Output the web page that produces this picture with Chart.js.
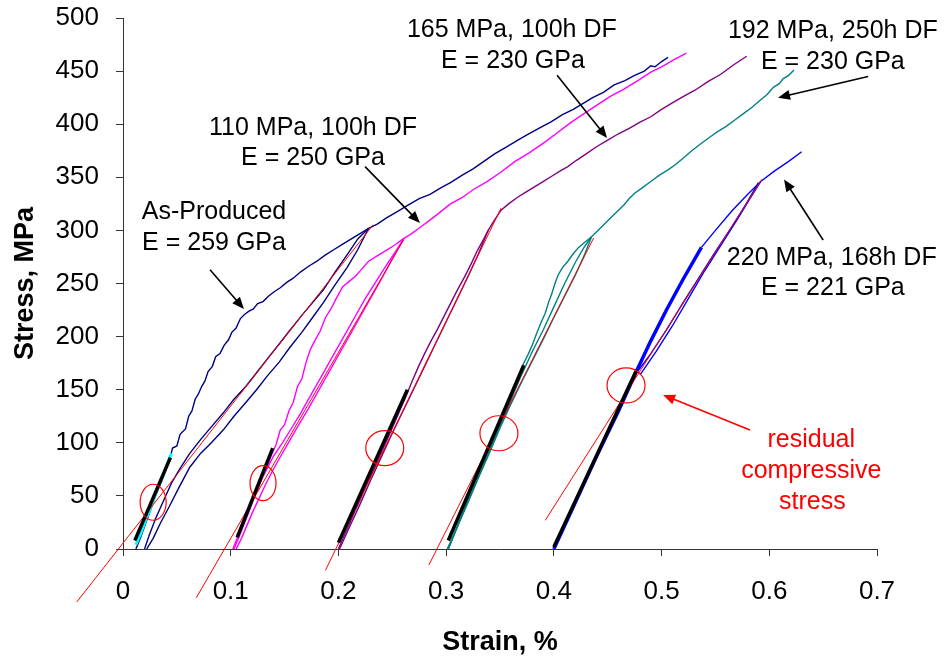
<!DOCTYPE html>
<html>
<head>
<meta charset="utf-8">
<script src="https://cdn.jsdelivr.net/npm/chart.js@4.4.1/dist/chart.umd.min.js"></script>
<style>
  html, body { margin: 0; padding: 0; background: #fff; }
  #wrap { width: 948px; height: 660px; }
</style>
</head>
<body>
<div id="wrap"><canvas id="stressStrain" width="948" height="660"></canvas></div>
<script>
// ==========================================
// DATA (strain %, stress MPa)
// ==========================================
const xTickLabels = ['0', '0.1', '0.2', '0.3', '0.4', '0.5', '0.6', '0.7'];
const yTickLabels = ['0', '50', '100', '150', '200', '250', '300', '350', '400', '450', '500'];

// As-Produced
const apLoad = [[0.012,0],[0.016,10],[0.021,24],[0.026,38],[0.031,52],[0.036,64],[0.040,76],[0.044,87],[0.046,95],[0.050,97],[0.053,108],[0.058,113],[0.061,125],[0.064,130],[0.067,141],[0.070,146],[0.073,153],[0.076,158],[0.079,167],[0.083,172],[0.086,181],[0.090,184],[0.094,192],[0.098,197],[0.101,204],[0.105,208],[0.109,217],[0.113,221],[0.117,224],[0.121,226],[0.125,231],[0.130,233],[0.135,238],[0.140,242],[0.146,246],[0.152,251],[0.158,255],[0.165,261],[0.172,266],[0.180,271],[0.188,277],[0.196,282],[0.204,287],[0.212,292],[0.220,297],[0.228,302],[0.236,306],[0.245,312],[0.255,318],[0.265,324],[0.275,330],[0.285,334],[0.295,340],[0.304,345],[0.315,352],[0.325,358],[0.335,365],[0.345,372],[0.355,378],[0.365,384],[0.375,390],[0.386,396],[0.397,402],[0.408,409],[0.418,414],[0.428,420],[0.436,425],[0.446,430],[0.456,437],[0.466,441],[0.475,446],[0.484,450],[0.490,455],[0.494,454],[0.500,459],[0.506,463]];
const apUnload = [[0.228,302],[0.218,292],[0.208,277],[0.197,261],[0.186,244],[0.176,232],[0.166,220],[0.155,206],[0.145,193],[0.134,179],[0.124,166],[0.114,153],[0.103,141],[0.093,128],[0.082,115],[0.072,103],[0.062,90],[0.053,76],[0.045,62],[0.037,44],[0.030,28],[0.024,12],[0.020,0]];
const apReload = [[0.022,0],[0.028,10],[0.035,25],[0.043,40],[0.052,58],[0.062,77],[0.072,90],[0.082,100],[0.093,112],[0.103,125],[0.114,138],[0.124,150],[0.134,163],[0.145,176],[0.155,190],[0.166,204],[0.176,218],[0.186,232],[0.197,249],[0.208,265],[0.218,282],[0.228,302]];
const apRaw = [[0.012,4],[0.017,16],[0.022,30],[0.027,42],[0.032,57],[0.037,68],[0.041,80],[0.045,90]];
const apSlope = [[0.011,8],[0.044,86]];
const apSecant = [[-0.043,-50],[0.232,305]];

// 110 MPa, 100h DF
const pkLoad = [[0.102,0],[0.106,10],[0.110,20],[0.114,31],[0.118,40],[0.122,50],[0.126,58],[0.130,70],[0.134,78],[0.138,89],[0.142,98],[0.146,112],[0.150,117],[0.154,130],[0.158,138],[0.162,153],[0.166,160],[0.170,176],[0.174,188],[0.178,196],[0.183,205],[0.188,218],[0.193,226],[0.198,236],[0.204,247],[0.210,252],[0.216,257],[0.222,264],[0.228,271],[0.236,276],[0.244,281],[0.252,286],[0.260,292],[0.268,297],[0.276,303],[0.284,309],[0.293,316],[0.304,325],[0.315,331],[0.326,339],[0.338,346],[0.351,355],[0.364,365],[0.377,373],[0.390,382],[0.402,391],[0.415,401],[0.428,410],[0.440,418],[0.452,426],[0.465,433],[0.478,441],[0.490,449],[0.500,454],[0.512,461],[0.523,467]];
const pkUnload = [[0.260,291],[0.253,280],[0.245,268],[0.235,252],[0.225,236],[0.215,218],[0.205,200],[0.195,182],[0.185,164],[0.175,146],[0.165,128],[0.156,113],[0.148,100],[0.140,88],[0.134,76],[0.128,64],[0.123,52],[0.118,38],[0.113,25],[0.108,12],[0.103,0]];
const pkReload = [[0.105,0],[0.110,10],[0.115,22],[0.120,34],[0.126,47],[0.132,60],[0.138,72],[0.145,85],[0.153,99],[0.162,115],[0.172,132],[0.182,150],[0.192,168],[0.202,186],[0.212,204],[0.222,222],[0.232,240],[0.242,258],[0.251,275],[0.260,291]];
const pkSlope = [[0.106,11],[0.139,95]];
const pkSecant = [[0.068,-46],[0.261,292]];

// 165 MPa, 100h DF
const puLoad = [[0.200,0],[0.205,12],[0.210,23],[0.215,35],[0.220,46],[0.226,60],[0.232,73],[0.238,87],[0.244,100],[0.250,114],[0.256,128],[0.262,142],[0.268,157],[0.274,171],[0.280,184],[0.286,196],[0.292,207],[0.298,219],[0.304,231],[0.310,243],[0.317,256],[0.323,268],[0.329,281],[0.335,292],[0.339,300],[0.345,310],[0.351,319],[0.358,325],[0.366,331],[0.374,336],[0.382,341],[0.390,346],[0.398,351],[0.406,356],[0.413,360],[0.421,366],[0.430,372],[0.440,379],[0.450,385],[0.460,391],[0.470,396],[0.480,402],[0.490,407],[0.500,414],[0.510,420],[0.520,426],[0.531,432],[0.543,440],[0.555,447],[0.567,456],[0.579,464]];
const puReload = [[0.201,0],[0.210,20],[0.220,42],[0.230,65],[0.240,87],[0.250,109],[0.260,130],[0.270,151],[0.280,172],[0.290,193],[0.300,214],[0.310,235],[0.320,256],[0.330,278],[0.339,300]];
const puSlope = [[0.200,6],[0.264,150]];
const puSecant = [[0.188,-20],[0.351,321]];

// 192 MPa, 250h DF
const tlLoad = [[0.302,0],[0.306,10],[0.310,20],[0.315,33],[0.320,46],[0.325,58],[0.330,70],[0.335,83],[0.339,93],[0.344,102],[0.348,112],[0.353,122],[0.357,131],[0.361,143],[0.364,152],[0.368,163],[0.372,175],[0.376,183],[0.380,192],[0.384,203],[0.388,213],[0.392,222],[0.395,232],[0.398,240],[0.401,250],[0.404,258],[0.408,265],[0.413,271],[0.418,278],[0.423,284],[0.429,289],[0.435,294],[0.440,299],[0.444,303],[0.450,309],[0.455,314],[0.460,319],[0.465,324],[0.470,330],[0.475,335],[0.482,340],[0.490,346],[0.498,352],[0.506,357],[0.513,362],[0.520,368],[0.528,375],[0.537,382],[0.545,388],[0.552,393],[0.560,398],[0.568,404],[0.576,410],[0.584,416],[0.591,422],[0.598,428],[0.604,435],[0.609,438],[0.613,443],[0.618,446],[0.623,451]];
const tlUnload = [[0.435,294],[0.428,284],[0.420,270],[0.410,250],[0.400,228],[0.390,206],[0.380,186],[0.370,164],[0.360,140],[0.350,116],[0.340,92],[0.330,68],[0.320,44],[0.310,20],[0.302,0]];
const tlReload = [[0.301,0],[0.310,20],[0.320,43],[0.330,67],[0.340,90],[0.350,114],[0.360,136],[0.370,157],[0.380,177],[0.390,197],[0.400,218],[0.410,238],[0.420,258],[0.428,276],[0.435,294]];
const tlSlope = [[0.302,8],[0.372,173]];
const tlSecant = [[0.284,-15],[0.437,293]];

// 220 MPa, 168h DF
const blBundle = [[0.400,0],[0.420,44],[0.440,88],[0.460,130],[0.477,168],[0.490,196],[0.505,226],[0.520,254],[0.537,284]];
const blLoad = [[0.537,284],[0.550,300],[0.565,318],[0.580,334],[0.592,346],[0.605,356],[0.618,365],[0.630,374]];
const blUnload = [[0.590,345],[0.578,324],[0.565,303],[0.550,280],[0.535,256],[0.520,232],[0.505,207],[0.490,184],[0.477,166]];
const blReload = [[0.480,164],[0.495,186],[0.510,210],[0.525,236],[0.540,262],[0.555,286],[0.570,310],[0.582,330],[0.592,346]];
const blSlope = [[0.400,2],[0.477,169]];
const blSecant = [[0.392,27],[0.593,348]];

// ==========================================
// ANNOTATIONS (data coordinates)
// ==========================================
const FONT = '"Liberation Sans", Arial, sans-serif';

const labels = [
  { text: 'As-Produced', x: 0.0845, y: 317 },
  { text: 'E = 259 GPa', x: 0.0845, y: 288 },
  { text: '110 MPa, 100h DF', x: 0.1764, y: 396 },
  { text: 'E = 250 GPa', x: 0.1764, y: 368 },
  { text: '165 MPa, 100h DF', x: 0.361, y: 489 },
  { text: 'E = 230 GPa', x: 0.362, y: 459 },
  { text: '192 MPa, 250h DF', x: 0.659, y: 488 },
  { text: 'E = 230 GPa', x: 0.659, y: 458 },
  { text: '220 MPa, 168h DF', x: 0.658, y: 274 },
  { text: 'E = 221 GPa', x: 0.659, y: 246 },
  { text: 'residual', x: 0.639, y: 103, color: '#ff0000' },
  { text: 'compressive', x: 0.639, y: 73, color: '#ff0000' },
  { text: 'stress', x: 0.640, y: 44, color: '#ff0000' }
];

const arrows = [
  { from: [0.0808, 263], to: [0.1123, 226] },
  { from: [0.2247, 360], to: [0.2757, 307] },
  { from: [0.403, 446], to: [0.4494, 387] },
  { from: [0.6917, 445], to: [0.6081, 425] },
  { from: [0.650, 291], to: [0.6137, 348] },
  { from: [0.5821, 112], to: [0.5014, 145], color: '#ff0000' }
];

const rings = [
  { x: 0.028, y: 44, rx: 13, ry: 18 },
  { x: 0.130, y: 62, rx: 13, ry: 17.5 },
  { x: 0.243, y: 95, rx: 19, ry: 17.5 },
  { x: 0.349, y: 109, rx: 19, ry: 17.5 },
  { x: 0.467, y: 154, rx: 19, ry: 17.5 }
];

// ==========================================
// DATASETS
// ==========================================
function curve(points, color, width, order) {
    return {
        data: points.map(p => ({ x: p[0], y: p[1] })),
        showLine: true,
        borderColor: color,
        borderWidth: width,
        pointRadius: 0,
        tension: 0,
        fill: false,
        order: order
    };
}

function secant(points) {
    const ds = curve(points, '#ff0000', 1, 1);
    ds.clip = false; // the fit lines run past the axes
    return ds;
}

const NAVY = '#000080', PINK = '#ff00ff', PURPLE = '#800080', TEAL = '#008080', BLUE = '#0000ff';

const datasets = [
    curve(apLoad, NAVY, 1.4, 3), curve(apUnload, NAVY, 1.4, 3), curve(apReload, NAVY, 1.4, 3),
    curve(apRaw, '#00ffff', 3, 2),
    curve(pkLoad, PINK, 1.4, 3), curve(pkUnload, PINK, 1.4, 3), curve(pkReload, PINK, 1.4, 3),
    curve(puLoad, PURPLE, 1.4, 3), curve(puReload, PURPLE, 1.4, 3),
    curve(tlLoad, TEAL, 1.4, 3), curve(tlUnload, TEAL, 1.4, 3), curve(tlReload, TEAL, 1.4, 3),
    curve(blBundle, BLUE, 3.5, 3), curve(blLoad, BLUE, 1.4, 3), curve(blUnload, BLUE, 1.4, 3), curve(blReload, BLUE, 1.4, 3),
    secant(apSecant), secant(pkSecant), secant(puSecant), secant(tlSecant), secant(blSecant),
    curve(apSlope, '#000', 3.5, 0), curve(pkSlope, '#000', 3.5, 0), curve(puSlope, '#000', 3.5, 0),
    curve(tlSlope, '#000', 3.5, 0), curve(blSlope, '#000', 3.5, 0)
];

// ==========================================
// PLUGIN: texts, arrows, circles and axis titles
// ==========================================
function drawArrow(ctx, x1, y1, x2, y2, color) {
    const ang = Math.atan2(y2 - y1, x2 - x1);
    const len = 12, half = 5;
    ctx.strokeStyle = color;
    ctx.fillStyle = color;
    ctx.lineWidth = 1.6;
    ctx.beginPath();
    ctx.moveTo(x1, y1);
    ctx.lineTo(x2 - Math.cos(ang) * len * 0.8, y2 - Math.sin(ang) * len * 0.8);
    ctx.stroke();
    ctx.beginPath();
    ctx.moveTo(x2, y2);
    ctx.lineTo(x2 - Math.cos(ang) * len - Math.sin(ang) * half, y2 - Math.sin(ang) * len + Math.cos(ang) * half);
    ctx.lineTo(x2 - Math.cos(ang) * len + Math.sin(ang) * half, y2 - Math.sin(ang) * len - Math.cos(ang) * half);
    ctx.closePath();
    ctx.fill();
}

const notesPlugin = {
    id: 'notes',
    afterDatasetsDraw(chart) {
        const ctx = chart.ctx;
        const xs = chart.scales.x, ys = chart.scales.y;
        ctx.save();

        rings.forEach(r => {
            ctx.strokeStyle = '#ff0000';
            ctx.lineWidth = 1.2;
            ctx.beginPath();
            ctx.ellipse(xs.getPixelForValue(r.x), ys.getPixelForValue(r.y), r.rx, r.ry, 0, 0, Math.PI * 2);
            ctx.stroke();
        });

        arrows.forEach(a => {
            drawArrow(ctx,
                xs.getPixelForValue(a.from[0]), ys.getPixelForValue(a.from[1]),
                xs.getPixelForValue(a.to[0]), ys.getPixelForValue(a.to[1]),
                a.color || '#000');
        });

        ctx.font = '25px ' + FONT;
        ctx.textAlign = 'center';
        ctx.textBaseline = 'middle';
        labels.forEach(l => {
            ctx.fillStyle = l.color || '#000';
            ctx.fillText(l.text, xs.getPixelForValue(l.x), ys.getPixelForValue(l.y));
        });

        // axis titles
        ctx.fillStyle = '#000';
        ctx.font = 'bold 27px ' + FONT;
        ctx.textBaseline = 'alphabetic';
        ctx.fillText('Strain, %', (xs.left + xs.right) / 2, 650);
        ctx.translate(33, (ys.top + ys.bottom) / 2);
        ctx.rotate(-Math.PI / 2);
        ctx.fillText('Stress, MPa', 0, 0);
        ctx.restore();
    }
};

// ==========================================
// CHART
// ==========================================
const ctx = document.getElementById('stressStrain').getContext('2d');
new Chart(ctx, {
    type: 'scatter',
    data: { datasets: datasets },
    options: {
        responsive: false,
        animation: false,
        events: [],
        layout: { padding: { left: 0, right: 71, top: 18, bottom: 0 } },
        plugins: { legend: { display: false }, tooltip: { enabled: false } },
        scales: {
            x: {
                type: 'linear',
                min: 0, max: 0.7,
                afterFit(scale) { scale.height = 111; },
                grid: { drawOnChartArea: false, drawTicks: true, tickLength: 7, color: '#333' },
                border: { color: '#333', width: 1 },
                ticks: {
                    stepSize: 0.1,
                    color: '#000',
                    padding: 20,
                    font: { family: FONT, size: 26 },
                    callback: (v, i) => xTickLabels[i]
                }
            },
            y: {
                type: 'linear',
                min: 0, max: 500,
                // fixed axis width, no extra label padding on top so the plot starts at 18px
                afterFit(scale) { scale.width = 123; scale.paddingTop = 0; scale.paddingBottom = 0; },
                grid: { drawOnChartArea: false, drawTicks: true, tickLength: 7, color: '#333' },
                border: { color: '#333', width: 1 },
                ticks: {
                    stepSize: 50,
                    color: '#000',
                    padding: 17,
                    font: { family: FONT, size: 26 },
                    callback: (v, i) => yTickLabels[i]
                }
            }
        }
    },
    plugins: [notesPlugin]
});
</script>
</body>
</html>
